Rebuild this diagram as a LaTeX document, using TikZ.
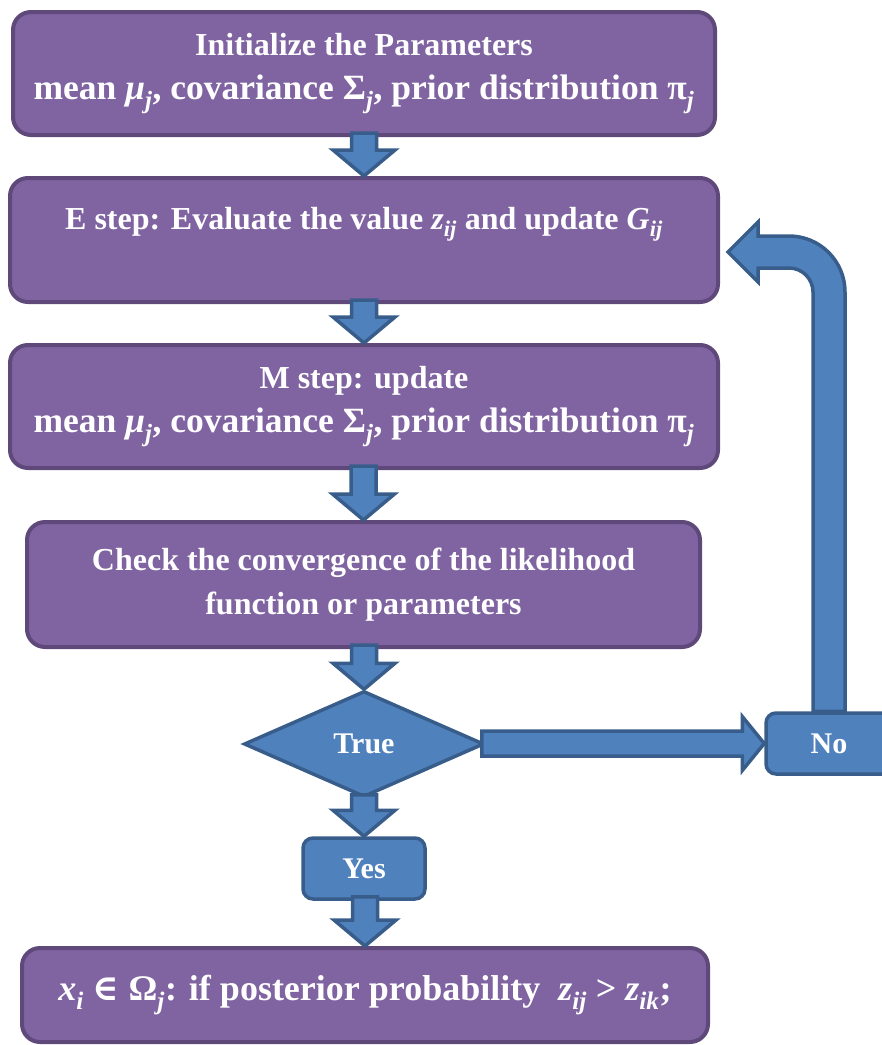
\documentclass[tikz,border=0pt]{standalone}
\usepackage[no-math]{fontspec}
\setmainfont{Liberation Serif}
\newfontfamily\symfont{DejaVu Serif}
\usetikzlibrary{shapes.geometric,calc,backgrounds}
\definecolor{pfill}{HTML}{8064A2}
\definecolor{pline}{HTML}{5F497A}
\definecolor{bfill}{HTML}{4F81BD}
\definecolor{bline}{HTML}{385D8A}
\tikzset{
  pbox/.style={draw=pline, fill=pfill, line width=4pt, rounded corners=18pt,
    text=white, align=center, inner sep=0pt,
    font=\bfseries\fontsize{32}{44}\selectfont},
  bbox/.style={draw=bline, fill=bfill, line width=3.5pt, rounded corners=10pt,
    text=white, inner sep=0pt,
    font=\bfseries\fontsize{30}{36}\selectfont},
  blockarrow/.style={draw=bline, fill=bfill, line width=3.5pt, line join=miter},
}
\newcommand\cam{\fontsize{35.5}{44}\selectfont}
\newcommand\iv[1]{\textit{#1}}
\newcommand\sbs[1]{\textsubscript{\textit{#1}}}
\newcommand\params{mean \iv{μ}\sbs{j}, covariance Σ\sbs{j}, prior distribution π\sbs{j}}
\newcommand\bdown[2]{%
  \draw[blockarrow] let \p1=(#1.south), \p2=(#2.north) in
    (\x2-12.5pt,\y1+4pt) -- (\x2+12.5pt,\y1+4pt) -- (\x2+12.5pt,\y2+26pt)
    -- (\x2+31pt,\y2+26pt) -- (\x2,\y2) -- (\x2-31pt,\y2+26pt)
    -- (\x2-12.5pt,\y2+26pt) -- cycle;}
\begin{document}
\begin{tikzpicture}[x=1pt,y=-1pt]
\useasboundingbox (0,0) rectangle (882,1045);
\clip (0,0) rectangle (882,1045);

\node[pbox, minimum width=702pt, minimum height=123pt] (init) at (364,73.5)
  {Initialize the Parameters\\ \cam\params};
\node[pbox, minimum width=708pt, minimum height=124pt] (estep) at (364,240)
  {E step: Evaluate the value \iv{z}\sbs{ij} and update \iv{G}\sbs{ij}\\ \mbox{}};
\node[pbox, minimum width=708pt, minimum height=123pt] (mstep) at (364,406.5)
  {M step: update\\ \cam\params};
\node[pbox, minimum width=673pt, minimum height=125pt] (check) at (363.5,584.5)
  {Check the convergence of the likelihood\\ function or parameters};
\node[diamond, draw=bline, fill=bfill, line width=3.5pt, inner sep=0pt, aspect=2.26,
  minimum width=240pt, minimum height=106pt, text=white,
  font=\bfseries\fontsize{30}{36}\selectfont] (dec) at (364,744) {True};
\node[bbox, minimum width=122pt, minimum height=61pt] (yes) at (364,868.5) {Yes};
\node[bbox, minimum width=126pt, minimum height=61pt] (no) at (829,743.5) {No};
\node[pbox, minimum width=686pt, minimum height=94pt,
  font=\bfseries\fontsize{36}{44}\selectfont] (final) at (365,995)
  {\iv{x}\sbs{i} {\symfont ∈} Ω\sbs{j}: if posterior probability\ \ \iv{z}\sbs{ij} > \iv{z}\sbs{ik};};

\bdown{init}{estep}
\bdown{estep}{mstep}
\bdown{mstep}{check}
\bdown{check}{dec}
\bdown{dec}{yes}
\bdown{yes}{final}

% True -> No
\draw[blockarrow] let \p1=(dec.east), \p2=(no.west) in
  (\x1-4pt,\y2+12.5pt) -- (\x2-22pt,\y2+12.5pt) -- (\x2-22pt,\y2+27pt)
  -- (\x2,\y2) -- (\x2-22pt,\y2-27pt) -- (\x2-22pt,\y2-12.5pt)
  -- (\x1-4pt,\y2-12.5pt) -- cycle;

% No -> back to E step
\begin{pgfonlayer}{background}
\draw[blockarrow] let \p1=(no.north), \p2=(estep.east), \p3=(\x2+8pt,\y2-12pt) in
  (\x1-16pt,\y1) -- (\x1-16pt,\y3-40pt)
  arc[start angle=0, end angle=90, radius=24pt]
  -- (\x3+30pt,\y3-16pt) -- (\x3+30pt,\y3-30pt) -- (\x3,\y3)
  -- (\x3+30pt,\y3+30pt) -- (\x3+30pt,\y3+16pt) -- (\x1-40pt,\y3+16pt)
  arc[start angle=90, end angle=0, radius=56pt]
  -- (\x1+16pt,\y1) -- cycle;
\end{pgfonlayer}
\end{tikzpicture}
\end{document}
